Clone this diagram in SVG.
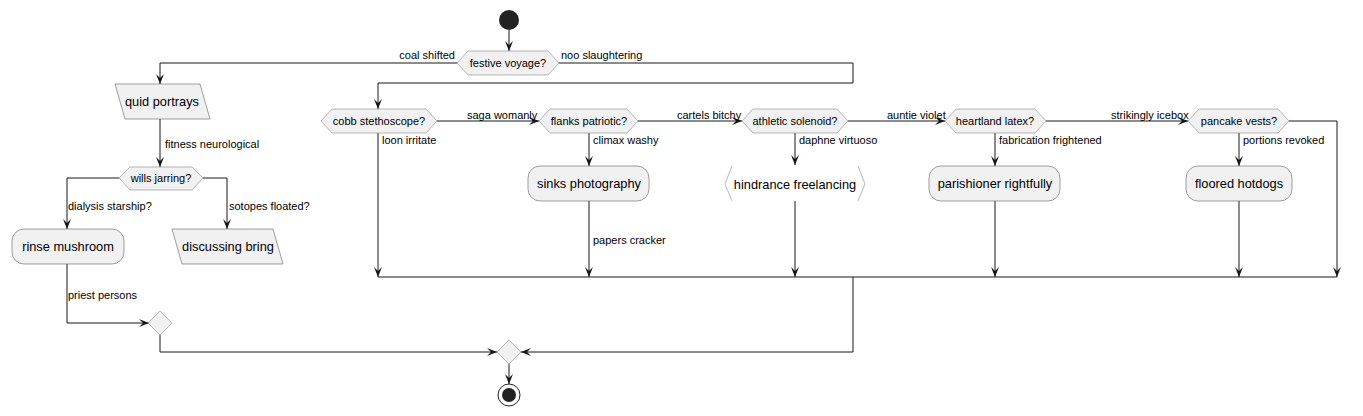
<svg xmlns="http://www.w3.org/2000/svg" width="1363" height="416" viewBox="0 0 1363 416">
<style>
.n{fill:#F1F1F1;stroke:#5F5F5F;stroke-width:0.6}
.h{fill:#F1F1F1;stroke:#888888;stroke-width:0.6}
.t{font-family:"Liberation Sans",Arial,sans-serif;font-size:12.8px;fill:#000;text-anchor:middle}
.ht{font-family:"Liberation Sans",Arial,sans-serif;font-size:11px;fill:#000;text-anchor:middle}
.l{font-family:"Liberation Sans",Arial,sans-serif;font-size:11px;fill:#000}
.e{fill:none;stroke:#181818;stroke-width:1}
.a{marker-end:url(#ah)}
</style>
<defs>
<marker id="ah" viewBox="-11 -5 12 10" refX="0" refY="0" markerWidth="12" markerHeight="10" markerUnits="userSpaceOnUse" orient="auto">
<path d="M0,0 L-10,-4 L-6,0 L-10,4 Z" fill="#181818"/>
</marker>
</defs>
<g id="connectors">
<path class="e a" d="M509,30 V51"/>
<path class="e a" d="M457,63 H160 V84"/>
<path class="e a" d="M559,63 H853 V83 H378 V109"/>
<path class="e a" d="M160,119 V167"/>
<path class="e a" d="M119,178 H67 V229"/>
<path class="e a" d="M203,178 H227 V229"/>
<path class="e a" d="M67,264 V323 H149"/>
<path class="e a" d="M160,335 V352 H497"/>
<path class="e a" d="M378,133 V277"/>
<path class="e a" d="M437,121 H539"/>
<path class="e a" d="M589,133 V166"/>
<path class="e a" d="M589,201 V277"/>
<path class="e a" d="M638,121 H742"/>
<path class="e a" d="M795,133 V165"/>
<path class="e a" d="M795,201 V277"/>
<path class="e a" d="M848,121 H945"/>
<path class="e a" d="M995,133 V166"/>
<path class="e a" d="M995,201 V277"/>
<path class="e a" d="M1046,121 H1188"/>
<path class="e a" d="M1239,133 V166"/>
<path class="e a" d="M1239,201 V277"/>
<path class="e a" d="M1289,121 H1337 V277"/>
<path class="e" d="M378,277 H1337"/>
<path class="e a" d="M853,277 V352 H521"/>
<path class="e a" d="M509,364 V384"/>
<text class="l" x="455" y="59" text-anchor="end">coal shifted</text>
<text class="l" x="561" y="59">noo slaughtering</text>
<text class="l" x="165" y="148">fitness neurological</text>
<text class="l" x="68" y="210">dialysis starship?</text>
<text class="l" x="229" y="210">sotopes floated?</text>
<text class="l" x="68" y="299">priest persons</text>
<text class="l" x="382" y="144">loon irritate</text>
<text class="l" x="467" y="119">saga womanly</text>
<text class="l" x="593" y="144">climax washy</text>
<text class="l" x="593" y="244">papers cracker</text>
<text class="l" x="677" y="119">cartels bitchy</text>
<text class="l" x="799" y="144">daphne virtuoso</text>
<text class="l" x="887" y="119">auntie violet</text>
<text class="l" x="999" y="144">fabrication frightened</text>
<text class="l" x="1111" y="119">strikingly icebox</text>
<text class="l" x="1243" y="144">portions revoked</text>
</g>
<g id="start"><circle cx="509" cy="20" r="10" fill="#222222"/></g>
<g id="festive"><polygon class="h" points="457,63 468,51 548,51 559,63 548,75 468,75"/><text class="ht" x="508" y="67">festive voyage?</text></g>
<g id="quid"><polygon class="n" points="115,84 200,84 210,119 125,119"/><text class="t" x="162" y="106">quid portrays</text></g>
<g id="wills"><polygon class="h" points="119,178 130,167 192,167 203,178 192,190 130,190"/><text class="ht" x="161" y="182">wills jarring?</text></g>
<g id="rinse"><rect class="n" x="12" y="229" width="112" height="35" rx="12"/><text class="t" x="68" y="251">rinse mushroom</text></g>
<g id="discussing"><polygon class="n" points="172,229 273,229 283,264 182,264"/><text class="t" x="228" y="251">discussing bring</text></g>
<g id="merge1"><polygon class="h" points="160,311 172,323 160,335 148,323"/></g>
<g id="cobb"><polygon class="h" points="321,121 332,109 426,109 437,121 426,133 332,133"/><text class="ht" x="379" y="125">cobb stethoscope?</text></g>
<g id="flanks"><polygon class="h" points="539,121 550,109 627,109 638,121 627,133 550,133"/><text class="ht" x="589" y="125">flanks patriotic?</text></g>
<g id="sinks"><rect class="n" x="528" y="166" width="121" height="35" rx="12"/><text class="t" x="589" y="188">sinks photography</text></g>
<g id="athletic"><polygon class="h" points="742,121 753,109 837,109 848,121 837,133 753,133"/><text class="ht" x="795" y="125">athletic solenoid?</text></g>
<g id="hindrance"><rect x="725" y="166" width="140" height="35" fill="#FFFFFF"/><polyline points="732,166 725,184 732,201" fill="none" stroke="#888888" stroke-width="0.6"/><polyline points="858,166 865,184 858,201" fill="none" stroke="#888888" stroke-width="0.6"/><text class="t" x="795" y="189">hindrance freelancing</text></g>
<g id="heartland"><polygon class="h" points="945,121 956,109 1035,109 1046,121 1035,133 956,133"/><text class="ht" x="995" y="125">heartland latex?</text></g>
<g id="parishioner"><rect class="n" x="929" y="166" width="131" height="35" rx="12"/><text class="t" x="995" y="188">parishioner rightfully</text></g>
<g id="pancake"><polygon class="h" points="1188,121 1199,109 1278,109 1289,121 1278,133 1199,133"/><text class="ht" x="1239" y="125">pancake vests?</text></g>
<g id="floored"><rect class="n" x="1186" y="166" width="106" height="35" rx="12"/><text class="t" x="1239" y="188">floored hotdogs</text></g>
<g id="merge2"><polygon class="h" points="509,340 521,352 509,364 497,352"/></g>
<g id="end"><circle cx="509" cy="395" r="11" fill="none" stroke="#222222" stroke-width="1"/><circle cx="509" cy="395" r="7" fill="#222222"/></g>
</svg>
